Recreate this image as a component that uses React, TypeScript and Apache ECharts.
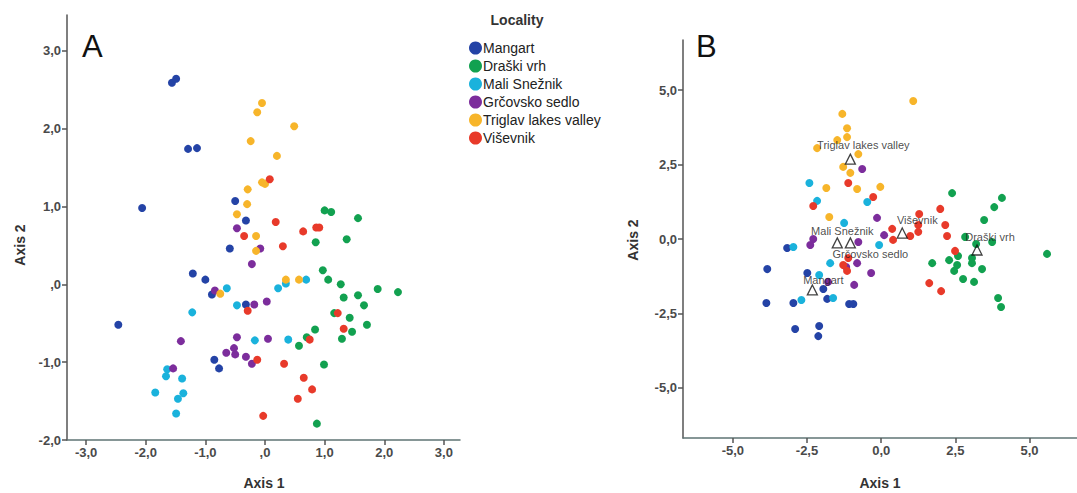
import React, { useEffect, useRef } from "react";
import * as echarts from "echarts";

const localities = ["Mangart", "Draški vrh", "Mali Snežnik", "Grčovsko sedlo", "Triglav lakes valley", "Viševnik"];
const colors = ["#2443a6", "#12a150", "#1ab2dc", "#7c2d9c", "#f7b52a", "#e83a2a"];

// Panel A (Axis 1, Axis 2)
const mangartA = [[-1.56, 2.59], [-1.49, 2.64], [-1.29, 1.74], [-1.14, 1.75], [-2.06, 0.98], [-0.5, 1.07], [-0.59, 0.46], [-1.21, 0.14], [-1.0, 0.06], [-0.89, -0.13], [-2.46, -0.52], [-0.85, -0.97], [-0.77, -1.08], [-0.32, 0.82], [-0.32, -0.26]];
const draskiA = [[1.0, 0.95], [1.11, 0.93], [1.56, 0.85], [0.85, 0.54], [1.37, 0.58], [0.97, 0.18], [1.06, 0.06], [1.27, 0.0], [1.89, -0.06], [2.23, -0.1], [1.32, -0.17], [1.56, -0.14], [1.66, -0.27], [1.16, -0.37], [1.42, -0.43], [1.71, -0.52], [1.46, -0.61], [0.84, -0.58], [0.7, -0.68], [1.29, -0.7], [0.57, -0.79], [0.99, -1.03], [0.87, -1.79]];
const maliA = [[-0.64, -0.05], [-0.47, -0.27], [-1.22, -0.36], [-1.64, -1.09], [-1.66, -1.18], [-1.39, -1.21], [-1.84, -1.39], [-1.37, -1.4], [-1.46, -1.47], [-1.49, -1.66], [0.35, 0.01], [0.69, 0.06], [0.22, -0.05], [-0.17, -0.72], [0.39, -0.71]];
const grcovskoA = [[-0.47, 0.72], [-0.08, 0.46], [-0.84, -0.08], [-0.47, -0.68], [-1.41, -0.73], [-0.65, -0.88], [-0.52, -0.82], [-0.5, -0.9], [-1.54, -1.08], [-0.22, 0.26], [-0.18, -0.26], [0.03, -0.22], [0.05, -0.7], [-0.32, -0.93], [-0.22, -1.02]];
const triglavA = [[-0.05, 2.33], [-0.13, 2.21], [0.49, 2.03], [-0.24, 1.84], [0.2, 1.65], [-0.05, 1.31], [0.0, 1.29], [-0.29, 1.22], [-0.3, 1.03], [-0.47, 0.9], [-0.15, 0.62], [-0.15, 0.43], [-0.75, -0.12], [0.35, 0.06], [0.57, 0.06]];
const visevnikA = [[0.08, 1.35], [0.18, 0.8], [0.86, 0.73], [0.91, 0.73], [0.64, 0.68], [-0.35, 0.62], [0.3, 0.49], [-0.29, -0.34], [1.22, -0.37], [1.32, -0.57], [0.75, -0.71], [-0.13, -0.97], [0.32, -1.02], [0.65, -1.2], [0.79, -1.35], [0.55, -1.47], [-0.03, -1.69]];

// Panel B (Axis 1, Axis 2)
const mangartB = [[-3.17, -0.3], [-3.84, -1.01], [-2.49, -1.14], [-1.95, -1.68], [-3.87, -2.15], [-2.96, -2.15], [-1.82, -2.01], [-1.08, -2.18], [-0.94, -2.18], [-2.9, -3.02], [-2.09, -2.92], [-2.12, -3.26]];
const draskiB = [[2.39, 1.54], [4.07, 1.38], [3.81, 1.07], [3.47, 0.64], [2.83, 0.07], [3.74, -0.1], [3.2, -0.17], [2.59, -0.57], [3.06, -0.64], [3.06, -0.81], [5.59, -0.5], [1.72, -0.81], [2.29, -0.71], [2.56, -0.87], [2.46, -1.07], [3.4, -1.01], [2.76, -1.34], [3.13, -1.44], [3.94, -1.98], [4.04, -2.28]];
const maliB = [[-2.42, 1.88], [-2.16, 1.28], [-1.25, 0.54], [-0.47, 1.24], [-2.96, -0.27], [-0.07, -0.2], [-1.72, -0.81], [-2.09, -1.21], [-2.69, -2.05], [-1.62, -1.98]];
const grcovskoB = [[-0.64, 2.35], [-0.14, 0.71], [0.1, 0.13], [-2.29, 0.0], [-2.39, -0.2], [-0.77, -0.1], [-0.81, -0.81], [-1.18, -0.94], [-0.34, -1.14], [-0.91, -1.54], [-1.79, -1.44]];
const triglavB = [[1.08, 4.63], [-1.31, 4.2], [-1.15, 3.72], [-1.15, 3.42], [-1.48, 3.32], [-2.16, 3.05], [-0.77, 2.85], [-1.28, 2.42], [-1.04, 2.22], [-1.85, 1.71], [-0.81, 1.68], [-0.03, 1.75], [-1.75, 0.74]];
const visevnikB = [[-1.11, 1.88], [-2.29, 1.11], [-0.27, 1.41], [1.99, 1.01], [1.28, 0.84], [2.16, 0.47], [1.25, 0.47], [1.25, 0.24], [0.37, 0.34], [0.4, -0.03], [0.98, 0.1], [2.22, 0.1], [2.49, -0.4], [-1.28, -0.87], [-1.15, -1.07], [-1.11, -0.64], [1.62, -1.48], [2.02, -1.75]];

// Group centroids in panel B
const centroidNames = ["Triglav lakes valley", "Mali Snežnik", "Grčovsko sedlo", "Viševnik", "Draški vrh", "Mangart"];
const centroidValues = [[-1.04, 2.68], [-1.48, -0.13], [-1.04, -0.13], [0.71, 0.2], [3.23, -0.37], [-2.32, -1.71]];
const centroidLabelOffsets = [[13, -14], [5, -12], [20, 11], [15, -13], [13, -13], [11, -10]];

const ticksA_x = [-3, -2, -1, 0, 1, 2, 3];
const ticksA_y = [-2, -1, 0, 1, 2, 3];
const ticksB = [-5, -2.5, 0, 2.5, 5];

const dataA = [mangartA, draskiA, maliA, grcovskoA, triglavA, visevnikA];
const dataB = [mangartB, draskiB, maliB, grcovskoB, triglavB, visevnikB];

const fmtA = (v: number) => {
  const s = v.toFixed(1).replace(".", ",");
  return s === "0,0" ? ",0" : s;
};
const fmtB = (v: number) => v.toFixed(1).replace(".", ",").replace("-0,0", "0,0");

const FONT = "'Liberation Sans', Arial, sans-serif";

function axis(gridIndex: number, min: number, max: number, ticks: number[], fmt: (v: number) => string, color: string) {
  return {
    type: "value",
    gridIndex,
    min,
    max,
    splitLine: { show: false },
    axisLine: { show: true, onZero: false, lineStyle: { color, width: 1.5 } },
    axisTick: { show: true, inside: false, length: 5, customValues: ticks, lineStyle: { color: "#555", width: 1.5 } },
    axisLabel: {
      customValues: ticks,
      formatter: fmt,
      color: "#4a4a4a",
      fontSize: 13,
      fontWeight: "bold",
      fontFamily: FONT,
      margin: 6,
    },
  };
}

export default function App() {
  const ref = useRef<HTMLDivElement>(null);
  useEffect(() => {
    if (!ref.current) return;
    const chart = echarts.init(ref.current, undefined, { renderer: "svg" });
    const series: any[] = [];
    localities.forEach((name, i) => {
      series.push({
        name,
        type: "scatter",
        xAxisIndex: 0,
        yAxisIndex: 0,
        data: dataA[i],
        symbolSize: 8,
        itemStyle: { color: colors[i], opacity: 1 },
      });
      series.push({
        name,
        type: "scatter",
        xAxisIndex: 1,
        yAxisIndex: 1,
        data: dataB[i],
        symbolSize: 8,
        itemStyle: { color: colors[i], opacity: 1 },
      });
    });
    series.push({
      name: "Centroids",
      type: "scatter",
      xAxisIndex: 1,
      yAxisIndex: 1,
      z: 5,
      symbol: "triangle",
      symbolSize: 10,
      itemStyle: { color: "rgba(255,255,255,0)", borderColor: "#111", borderWidth: 1.3 },
      data: centroidNames.map((n, i) => ({
        name: n,
        value: centroidValues[i],
        label: {
          show: true,
          position: "inside",
          offset: centroidLabelOffsets[i],
          formatter: n,
          color: "#1a1a1a",
          textBorderWidth: 0,
          fontSize: 11,
          fontFamily: FONT,
        },
      })),
    });

    chart.setOption({
      animation: false,
      backgroundColor: "#ffffff",
      grid: [
        { left: 67, top: 15, width: 393, height: 425 },
        { left: 683, top: 40, width: 394, height: 398 },
      ],
      xAxis: [
        axis(0, -3.32, 3.27, ticksA_x, fmtA, "#5f7474"),
        axis(1, -6.68, 6.6, ticksB, fmtB, "#5f7474"),
      ],
      yAxis: [
        axis(0, -2, 3.46, ticksA_y, fmtA, "#555"),
        axis(1, -6.68, 6.68, ticksB, fmtB, "#555"),
      ],
      legend: {
        data: localities,
        orient: "vertical",
        left: 464,
        top: 36,
        itemWidth: 13,
        itemHeight: 13,
        itemGap: 4,
        icon: "circle",
        selectedMode: false,
        textStyle: { color: "#222", fontSize: 14, fontFamily: FONT, lineHeight: 13, padding: [0, 0, 0, -4] },
      },
      graphic: [
        { type: "text", x: 82, y: 31, style: { text: "A", fontSize: 31, fontFamily: FONT, fill: "#111" } },
        { type: "text", x: 696, y: 31, style: { text: "B", fontSize: 31, fontFamily: FONT, fill: "#111" } },
        { type: "text", x: 517, y: 20, style: { text: "Locality", fontSize: 14, fontWeight: "bold", fontFamily: FONT, fill: "#333", align: "center", verticalAlign: "middle" } },
        { type: "text", x: 264, y: 483, style: { text: "Axis 1", fontSize: 14, fontWeight: "bold", fontFamily: FONT, fill: "#333", align: "center", verticalAlign: "middle" } },
        { type: "text", x: 880, y: 483, style: { text: "Axis 1", fontSize: 14, fontWeight: "bold", fontFamily: FONT, fill: "#333", align: "center", verticalAlign: "middle" } },
        { type: "text", x: 20, y: 245, rotation: Math.PI / 2, style: { text: "Axis 2", fontSize: 14, fontWeight: "bold", fontFamily: FONT, fill: "#333", align: "center", verticalAlign: "middle" } },
        { type: "text", x: 633, y: 240, rotation: Math.PI / 2, style: { text: "Axis 2", fontSize: 14, fontWeight: "bold", fontFamily: FONT, fill: "#333", align: "center", verticalAlign: "middle" } },
      ],
      series,
    });
    return () => chart.dispose();
  }, []);
  return <div ref={ref} style={{ position: "fixed", left: 0, top: 0, width: 1077, height: 493 }} />;
}
